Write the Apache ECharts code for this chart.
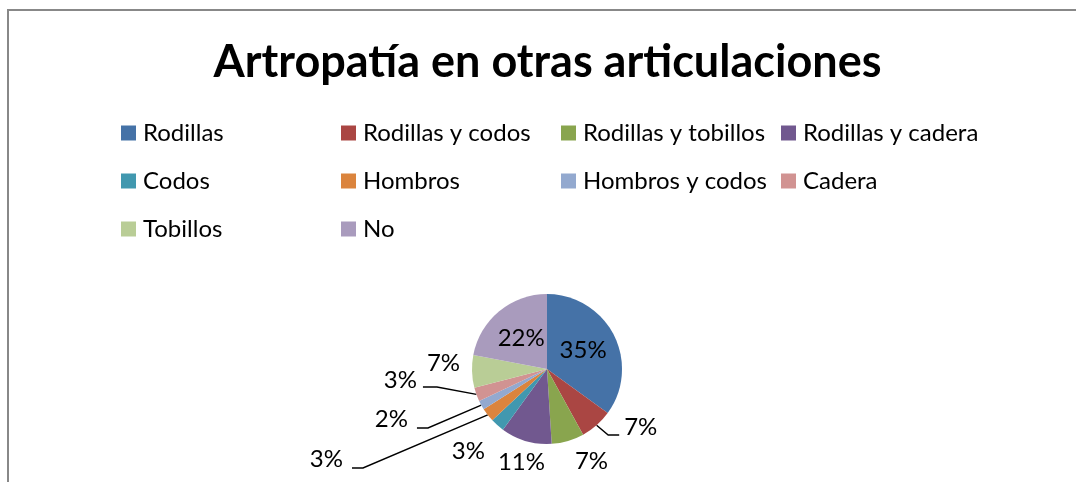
<!DOCTYPE html>
<html>
<head>
<meta charset="utf-8">
<script src="https://cdn.jsdelivr.net/npm/echarts@6/dist/echarts.min.js"></script>
<style>
  html, body { margin: 0; padding: 0; background: #fff; overflow: hidden; }
  #chart { width: 1095px; height: 482px; }
</style>
</head>
<body>
<div id="chart"></div>
<script>
// Joint categories and their share of cases (percent)
const categories = [
  'Rodillas', 'Rodillas y codos', 'Rodillas y tobillos', 'Rodillas y cadera',
  'Codos', 'Hombros', 'Hombros y codos', 'Cadera', 'Tobillos', 'No'
];
const values = [35, 7, 7, 11, 3, 3, 2, 3, 7, 22];

const colors = [
  '#4572A7', '#AA4643', '#89A54E', '#71588F', '#4198AF',
  '#DB843D', '#93A9CF', '#D19392', '#B9CD96', '#A99BBD'
];

// Label placement for each slice: inside, or outside with leader geometry
// [inside, lineLength, lineLength2, gapToLine, liftText, showLine, elbow]
const labelPlacement = [
  [true],
  [false, 13, 14, 5, 8, true, 11],
  [false, 21.4, 0, 1, 0, false, 0],
  [false, 22.4, -26.2, 1, 0, false, 0],
  [false, 34.9, -11.7, 1, 0, false, 0],
  [false, 86.5, 67.4, 9, 8.5, true, 11],
  [false, 47.5, 22.7, 9, 8.5, true, 11],
  [false, -21.8, 74, 6, 7, true, 14],
  [false, 10, 1, 1, 8.5, false, 0],
  [true]
];

const FONT = 'Lato';

const pieData = categories.map(function (name, i) {
  const p = labelPlacement[i];
  const item = { name: name, value: values[i], itemStyle: { color: colors[i] } };
  if (p[0]) {
    item.label = { position: 'inside' };
  } else {
    item.label = { position: 'outside', distanceToLabelLine: p[3] };
    item.labelLine = { show: p[5], length: p[1], length2: p[2] };
  }
  return item;
});

const chart = echarts.init(document.getElementById('chart'), null, { renderer: 'canvas' });

chart.setOption({
  animation: false,
  backgroundColor: '#ffffff',
  title: {
    text: 'Artropatía en otras articulaciones',
    left: 'center',
    top: 40,
    padding: 0,
    textStyle: { fontFamily: FONT, fontWeight: 'bold', fontSize: 45, color: '#000' }
  },
  legend: {
    left: 121,
    top: 109,
    width: 880,
    orient: 'horizontal',
    itemGap: 0,
    itemWidth: 15,
    itemHeight: 15,
    icon: 'rect',
    selectedMode: false,
    padding: 0,
    textStyle: {
      fontFamily: FONT, fontSize: 24, color: '#000',
      width: 198, lineHeight: 48, padding: [0, 0, 0, 2]
    },
    data: categories
  },
  graphic: [{
    type: 'rect',
    shape: { x: 8, y: 10, width: 2000, height: 1000 },
    style: { fill: 'none', stroke: '#888888', lineWidth: 2 },
    silent: true,
    z: -1
  }],
  series: [{
    type: 'pie',
    center: [547, 369],
    radius: 75,
    startAngle: 90,
    clockwise: true,
    avoidLabelOverlap: false,
    emphasis: { disabled: true },
    itemStyle: { borderWidth: 0 },
    label: {
      show: true,
      color: '#000',
      fontFamily: FONT,
      fontSize: 24,
      formatter: function (p) { return Math.round(p.percent) + '%'; }
    },
    labelLine: {
      lineStyle: { color: '#000', width: 1.4 }
    },
    // Leader lines end in a short horizontal elbow; text sits just above the line end
    labelLayout: function (p) {
      const spec = labelPlacement[p.dataIndex];
      if (!spec || spec[0]) return {};
      const out = { dy: -spec[4] };
      if (spec[5] && p.labelLinePoints) {
        const pts = p.labelLinePoints;
        const a = pts[0], c = pts[pts.length - 1];
        const sign = c[0] < a[0] ? 1 : -1;
        out.labelLinePoints = [a, [c[0] + sign * spec[6], c[1]], c];
      }
      return out;
    },
    data: pieData
  }]
});
</script>
</body>
</html>
